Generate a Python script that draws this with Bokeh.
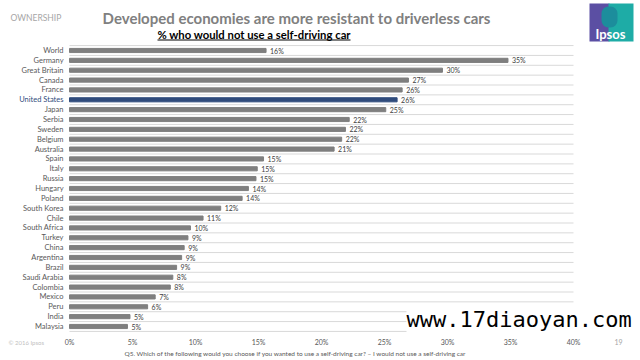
from bokeh.plotting import figure
from bokeh.models import Range1d, FixedTicker, Label, BoxAnnotation, ColumnDataSource
from bokeh.core.properties import value
from bokeh.embed import file_html
from bokeh.resources import INLINE

countries = ["World", "Germany", "Great Britain", "Canada", "France", "United States",
             "Japan", "Serbia", "Sweden", "Belgium", "Australia", "Spain", "Italy",
             "Russia", "Hungary", "Poland", "South Korea", "Chile", "South Africa",
             "Turkey", "China", "Argentina", "Brazil", "Saudi Arabia", "Colombia",
             "Mexico", "Peru", "India", "Malaysia"]
values = [15.6, 34.8, 29.6, 26.9, 26.4, 26.0, 25.1, 22.2, 21.9, 21.6, 21.0, 15.4, 14.9,
          14.8, 14.2, 13.7, 12.0, 10.6, 9.6, 9.4, 9.1, 8.9, 8.5, 8.2, 8.0, 6.8, 6.2, 4.8, 4.6]
value_labels = ["16%", "35%", "30%", "27%", "26%", "26%", "25%", "22%", "22%", "22%",
                "21%", "15%", "15%", "15%", "14%", "14%", "12%", "11%", "10%", "9%",
                "9%", "9%", "9%", "8%", "8%", "7%", "6%", "5%", "5%"]
x_ticks = [0, 5, 10, 15, 20, 25, 30, 35, 40]
x_tick_labels = ["0%", "5%", "10%", "15%", "20%", "25%", "30%", "35%", "40%"]
highlight = "United States"

FONT = "Lato"
W, H = 640, 360
# layout: pixel positions of the plotting area inside the canvas
PX_LEFT, PX_RIGHT = 69, 573          # x of 0% and 40%
ROW_PITCH = 9.857                    # px per row
BOTTOM_ROW_PX = 34                   # px from bottom of canvas to centre of last row

n = len(countries)
ys = [n - 1 - i for i in range(n)]
colors = ["#2f4b7c" if c == highlight else "#7f7f7f" for c in countries]
xmax = x_ticks[-1]
ppu = (PX_RIGHT - PX_LEFT) / xmax
x_start = -PX_LEFT / ppu
x_end = xmax + (W - PX_RIGHT) / ppu
y_start = -BOTTOM_ROW_PX / ROW_PITCH
y_end = y_start + H / ROW_PITCH

src = ColumnDataSource(dict(y=ys, v=values, lab=value_labels, c=colors))
bounds = [k - 0.5 for k in range(n + 1)]
grid_src = ColumnDataSource(dict(y=bounds, x0=[0] * len(bounds), x1=[xmax] * len(bounds)))

p = figure(width=W, height=H, output_backend="svg", toolbar_location=None,
           x_range=Range1d(x_start, x_end), y_range=Range1d(y_start, y_end),
           min_border=0)
p.outline_line_color = None
p.background_fill_color = "white"
p.border_fill_color = "white"
p.xgrid.grid_line_color = None
p.ygrid.grid_line_color = None

p.segment(x0="x0", x1="x1", y0="y", y1="y", source=grid_src,
          line_color="#d9d9d9", line_width=1)
p.hbar(y="y", right="v", left=0, height=0.42, color="c", source=src)
p.text(x="v", y="y", text="lab", source=src, x_offset=4, text_baseline="middle",
       text_align="left", text_font_size="7px", text_color="#404040",
       text_font=value(FONT))

# axes drawn inside the canvas at fixed positions
xa = p.xaxis[0]
xa.fixed_location = -0.5
xa.ticker = FixedTicker(ticks=x_ticks)
xa.major_label_overrides = {t: l for t, l in zip(x_ticks, x_tick_labels)}
xa.axis_line_color = None
xa.major_tick_line_color = None
xa.minor_tick_line_color = None
xa.major_tick_out = 0
xa.major_label_text_font_size = "7px"
xa.major_label_text_color = "#595959"
xa.major_label_text_font = FONT
xa.major_label_standoff = 7

ya = p.yaxis[0]
ya.fixed_location = 0
ya.ticker = FixedTicker(ticks=ys)
ya.major_label_overrides = {y: ("" if c == highlight else c) for y, c in zip(ys, countries)}
ya.axis_line_color = None
ya.major_tick_line_color = None
ya.minor_tick_line_color = None
ya.major_tick_out = 0
ya.major_label_text_font_size = "7.5px"
ya.major_label_text_color = "#595959"
ya.major_label_text_font = FONT
ya.major_label_standoff = 6

# highlighted country label
for y, c in zip(ys, countries):
    if c == highlight:
        p.add_layout(Label(x=0, y=y, x_offset=-6, text=c,
                           text_align="right", text_baseline="middle",
                           text_font_size="7.5px", text_color="#2f4b7c",
                           text_font=FONT))

def lab(x, y, text, size, color, align="left", style="normal", font=FONT, bg=None):
    l = Label(x=x, y=H - y, x_units="screen", y_units="screen", text=text,
              text_align=align, text_baseline="middle", text_font_size=size,
              text_color=color, text_font_style=style, text_font=font)
    if bg:
        l.background_fill_color = bg
    p.add_layout(l)

def box(l, r, t, b, color, radius=0):
    p.add_layout(BoxAnnotation(left=l, right=r, bottom=H - b, top=H - t,
                               left_units="screen", right_units="screen",
                               bottom_units="screen", top_units="screen",
                               fill_color=color, fill_alpha=1, line_color=None,
                               border_radius=radius))

lab(10, 17, "OWNERSHIP", "8.5px", "#a6a6a6")
lab(296, 17, "Developed economies are more resistant to driverless cars", "15px",
    "#808080", align="center", style="bold")
lab(157, 34, "% who would not use a self-driving car", "11.3px", "#000000", style="bold")
box(157, 350, 39, 40, "black")

# logo
box(589, 609, 3, 41, "#5b4fa3")
box(608, 633, 3, 41, "#1eaca6")
box(601, 617, 6, 27, "#1c8d9c", radius=7)
lab(610, 33, "Ipsos", "13px", "white", align="center", style="bold")

lab(8, 342, "© 2016 Ipsos", "6px", "#bfbfbf")
lab(614, 341, "19", "7px", "#a6a6a6")
lab(295, 353, "Q5. Which of the following would you choose if you wanted to use a "
    "self-driving car? \u2013 I would not use a self-driving car", "6.5px", "#595959",
    align="center")
lab(406, 319, "www.17diaoyan.com", "22px", "#000000", font="DejaVu Sans Mono", bg="white")

open("out.html", "w").write(file_html(p, INLINE))
